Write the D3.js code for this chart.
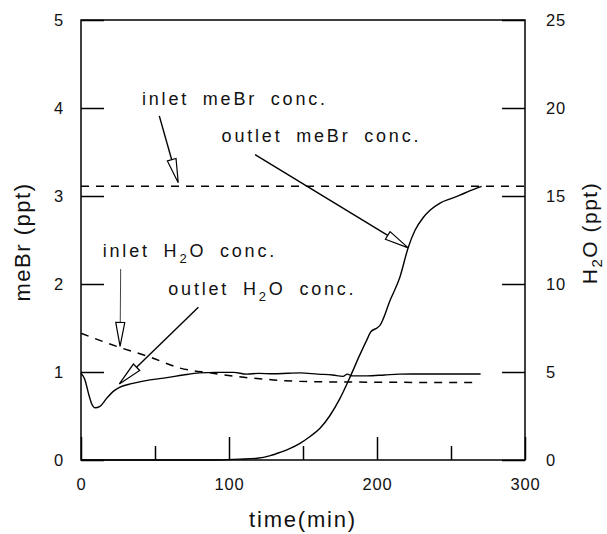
<!doctype html>
<html>
<head>
<meta charset="UTF-8">
<script src="https://cdnjs.cloudflare.com/ajax/libs/d3/7.8.5/d3.min.js"></script>
<style>
body { margin: 0; background: #fff; }
text { font-family: "Liberation Sans", Arial, sans-serif; fill: #111; }
</style>
</head>
<body>
<svg width="607" height="534"></svg>
<script>
// time (min) axis ticks and value axes
const timeTicks = [0, 100, 200, 300];
const timeMinorTicks = [50, 150, 250];
const meBrTicks = [0, 1, 2, 3, 4, 5];
const h2oTicks = [0, 5, 10, 15, 20, 25];

// inlet meBr conc. (ppt, left axis)
const inletMeBrTime = [0, 300];
const inletMeBr = [3.11, 3.11];

// outlet meBr conc. (ppt, left axis)
const outletMeBrTime = [0, 90, 107, 119, 128, 134.5, 141, 148, 155, 161.5, 168, 175, 182, 188, 193, 196, 200, 202, 209, 215.5, 221, 225.7, 231, 236, 242.6, 250, 256, 263, 270.7];
const outletMeBr = [0, 0, 0.01, 0.02, 0.05, 0.087, 0.13, 0.19, 0.27, 0.36, 0.5, 0.7, 0.95, 1.18, 1.36, 1.46, 1.5, 1.53, 1.82, 2.08, 2.41, 2.61, 2.75, 2.84, 2.92, 2.97, 3.01, 3.06, 3.11];

// inlet H2O conc. (ppt, right axis)
const inletH2OTime = [0, 26, 46.6, 67, 87, 110, 130, 155, 200, 266];
const inletH2O = [7.2, 6.4, 5.85, 5.22, 4.95, 4.7, 4.55, 4.45, 4.42, 4.4];

// outlet H2O conc. (ppt, right axis)
const outletH2OTime = [0, 2.7, 5, 7.2, 9.5, 12.8, 17.3, 21.8, 26, 35, 46.6, 58, 69, 80, 91, 103, 112, 120, 130, 140, 148, 160, 170, 177, 180, 183, 193, 205, 215, 240, 270];
const outletH2O = [4.93, 4.55, 3.8, 3.2, 2.97, 3.05, 3.5, 3.9, 4.13, 4.35, 4.55, 4.68, 4.83, 4.95, 4.98, 4.98, 4.88, 4.92, 4.9, 4.93, 4.95, 4.88, 4.83, 4.75, 4.88, 4.78, 4.78, 4.83, 4.88, 4.89, 4.89];

// annotations: label anchor and arrow tail/tip in (time, meBr) units
const notes = [
  { text: ["inlet meBr conc."], at: [41.2, 4.03], tail: [52.9, 3.91], tip: [65.7, 3.15] },
  { text: ["outlet meBr conc."], at: [95, 3.61], tail: [117.6, 3.47], tip: [221.1, 2.41] },
  { text: ["inlet H", "2", "O conc."], at: [14.7, 2.31], tail: [26.8, 2.17], tip: [26.4, 1.29], thin: true },
  { text: ["outlet H", "2", "O conc."], at: [59, 1.875], tail: [79.3, 1.735], tip: [25.9, 0.864] }
];

var svg = d3.select("svg");
var x = d3.scaleLinear().domain([0, 300]).range([81, 525]);
var yL = d3.scaleLinear().domain([0, 5]).range([460, 20]);
var yR = d3.scaleLinear().domain([0, 25]).range([460, 20]);

// frame
svg.append("rect")
  .attr("x", x(0)).attr("y", yL(5))
  .attr("width", x(300) - x(0)).attr("height", yL(0) - yL(5))
  .attr("fill", "none").attr("stroke", "#000").attr("stroke-width", 1.5);

function styleAxis(g) {
  g.select(".domain").remove();
  g.selectAll(".tick line").attr("stroke", "#000").attr("stroke-width", 1.5);
  g.selectAll(".tick text").attr("font-family", null).attr("font-size", 16.5).attr("letter-spacing", 0.8);
}

svg.append("g").attr("transform", "translate(0," + yL(0) + ")")
  .call(d3.axisBottom(x).tickValues(timeTicks).tickSize(-23).tickSizeOuter(0).tickPadding(18).tickFormat(d3.format("d")))
  .call(styleAxis);
svg.append("g").attr("transform", "translate(0," + yL(0) + ")")
  .call(d3.axisBottom(x).tickValues(timeMinorTicks).tickSize(-14).tickSizeOuter(0).tickFormat(""))
  .call(styleAxis);
svg.append("g").attr("transform", "translate(" + x(0) + ",0)")
  .call(d3.axisLeft(yL).tickValues(meBrTicks).tickSize(-23).tickSizeOuter(0).tickPadding(17).tickFormat(d3.format("d")))
  .call(styleAxis);
svg.append("g").attr("transform", "translate(" + x(300) + ",0)")
  .call(d3.axisRight(yR).tickValues(h2oTicks).tickSize(-23).tickSizeOuter(0).tickPadding(21).tickFormat(d3.format("d")))
  .call(styleAxis);

// curves
function zip(t, v) { return t.map(function(d, i) { return [d, v[i]]; }); }
var lineL = d3.line().x(d => x(d[0])).y(d => yL(d[1])).curve(d3.curveMonotoneX);
var lineR = d3.line().x(d => x(d[0])).y(d => yR(d[1])).curve(d3.curveMonotoneX);

svg.append("path").attr("d", lineL(zip(inletMeBrTime, inletMeBr)))
  .attr("fill", "none").attr("stroke", "#000").attr("stroke-width", 1.5).attr("stroke-dasharray", "8,7");
svg.append("path").attr("d", lineL(zip(outletMeBrTime, outletMeBr)))
  .attr("fill", "none").attr("stroke", "#000").attr("stroke-width", 1.4);
svg.append("path").attr("d", lineR(zip(inletH2OTime, inletH2O)))
  .attr("fill", "none").attr("stroke", "#000").attr("stroke-width", 1.5).attr("stroke-dasharray", "8,7");
svg.append("path").attr("d", lineR(zip(outletH2OTime, outletH2O)))
  .attr("fill", "none").attr("stroke", "#000").attr("stroke-width", 1.4);

// annotation arrows with open heads
notes.forEach(function(n) {
  var x1 = x(n.tail[0]), y1 = yL(n.tail[1]), x2 = x(n.tip[0]), y2 = yL(n.tip[1]);
  var len = Math.hypot(x2 - x1, y2 - y1), ux = (x2 - x1) / len, uy = (y2 - y1) / len;
  var hl = 24, hw = 4.5;
  var bx = x2 - ux * hl, by = y2 - uy * hl;
  svg.append("line").attr("x1", x1).attr("y1", y1).attr("x2", bx).attr("y2", by)
    .attr("stroke", n.thin ? "#444" : "#000").attr("stroke-width", n.thin ? 1 : 1.4);
  svg.append("path")
    .attr("d", "M" + x2 + "," + y2 + "L" + (bx - uy * hw) + "," + (by + ux * hw) + "L" + (bx + uy * hw) + "," + (by - ux * hw) + "Z")
    .attr("fill", "#fff").attr("stroke", "#000").attr("stroke-width", 1.2);

  var t = svg.append("text").attr("x", x(n.at[0])).attr("y", yL(n.at[1]))
    .attr("font-size", 18).attr("letter-spacing", 2.8).attr("word-spacing", 6);
  t.append("tspan").text(n.text[0]);
  if (n.text.length > 1) {
    t.append("tspan").attr("dy", 6).attr("font-size", 13).text(n.text[1]);
    t.append("tspan").attr("dy", -6).text(n.text[2]);
  }
});

// axis titles
svg.append("text").attr("x", 303).attr("y", 527).attr("text-anchor", "middle")
  .attr("font-size", 22).attr("letter-spacing", 1.8).text("time(min)");
svg.append("text").attr("transform", "translate(30,242) rotate(-90)").attr("text-anchor", "middle")
  .attr("font-size", 22).attr("letter-spacing", 1.5).text("meBr (ppt)");
var h2oTitle = svg.append("text").attr("transform", "translate(597,233) rotate(-90)").attr("text-anchor", "middle")
  .attr("font-size", 21).attr("letter-spacing", 1.5);
h2oTitle.append("tspan").text("H");
h2oTitle.append("tspan").attr("dy", 5).attr("font-size", 15).text("2");
h2oTitle.append("tspan").attr("dy", -5).text("O (ppt)");
</script>
</body>
</html>
